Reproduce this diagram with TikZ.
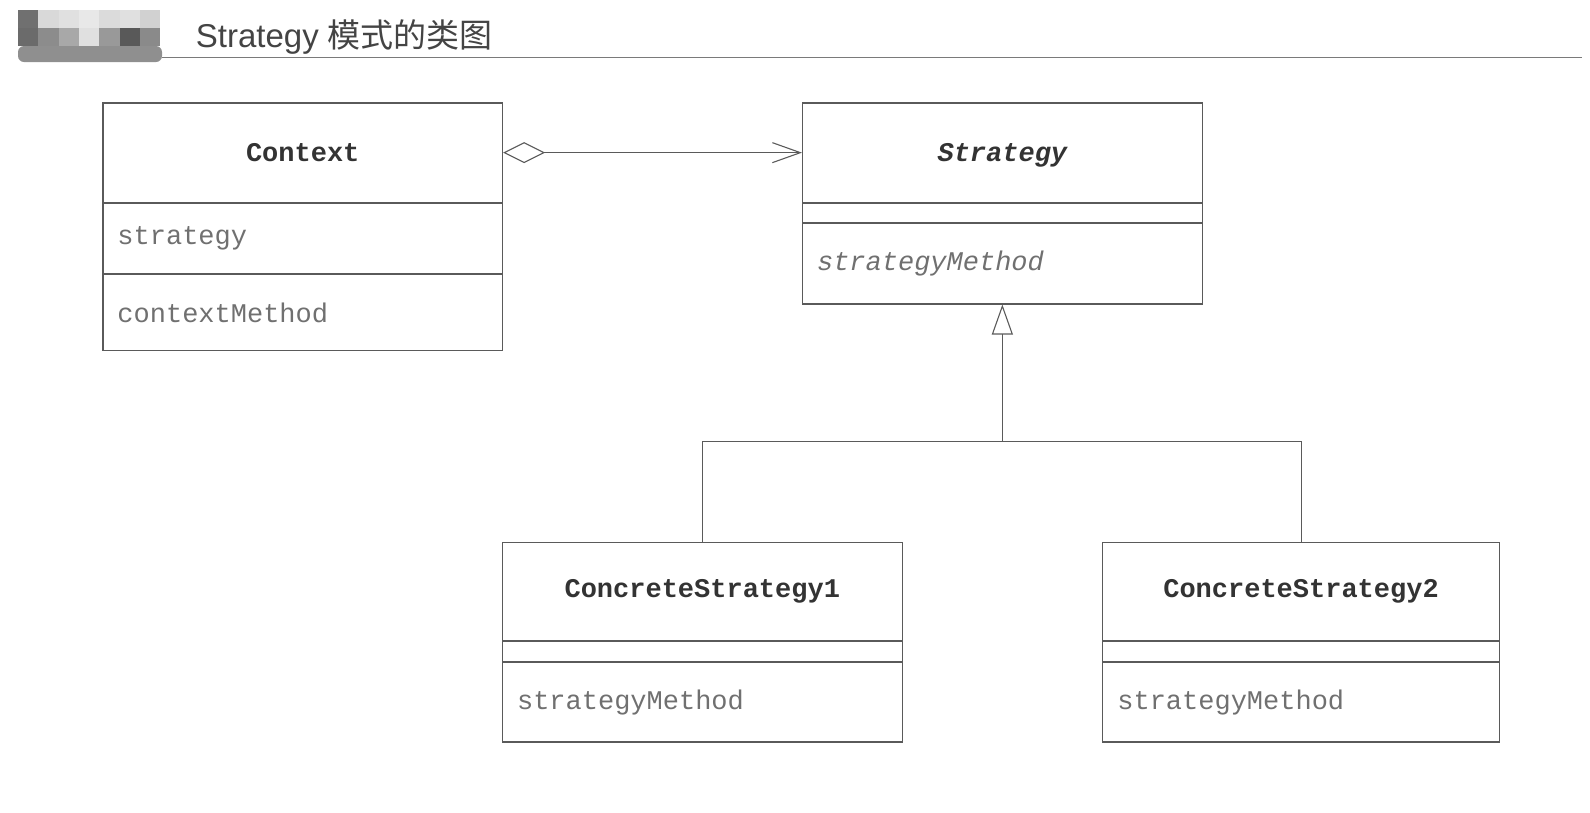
\documentclass[tikz,border=0pt]{standalone}
\usepackage{fontspec}
\setmainfont{Liberation Sans}
\setmonofont{Liberation Mono}
\newfontfamily\cjkfont{Noto Sans CJK SC}
\usetikzlibrary{arrows.meta}
\definecolor{linec}{HTML}{5A5A5A}
\definecolor{namec}{HTML}{333333}
\definecolor{fieldc}{HTML}{707070}
\definecolor{titlec}{HTML}{444444}
\tikzset{
  comp/.style={draw=linec, line width=1.1pt, anchor=north west, inner sep=0pt, minimum width=#1},
  namebox/.style={comp=#1, font=\fontsize{27}{30}\selectfont\ttfamily\bfseries, text=namec},
  fieldbox/.style={comp=#1, inner xsep=14.5pt, text width=#1-29pt, align=left, font=\fontsize{27}{30}\selectfont\ttfamily, text=fieldc},
  conn/.style={draw=linec, line width=1.1pt},
}
\begin{document}
\begin{tikzpicture}[x=1pt,y=-1pt]
\useasboundingbox (0,0) rectangle (1590,812);
% header logo (pixelated)
\foreach \c [count=\i from 0] in {56,15,12,9,14,12,18}
  {\fill[black!\c] (18+\i*20.3,10) rectangle (18+\i*20.3+20.3,28);}
\foreach \c [count=\i from 0] in {58,45,34,12,40,65,46}
  {\fill[black!\c] (18+\i*20.3,28) rectangle (18+\i*20.3+20.3,46);}
\fill[black!44, rounded corners=6pt] (18,46) rectangle (162,62);
\draw[black!52, line width=1pt] (162,57.8) -- (1582,57.8);
\node[anchor=west, inner sep=0pt, text=titlec, font=\fontsize{33}{36}\selectfont] (title) at (195.7,36.5) {Strategy {\cjkfont 模式的类图}};
% Context
\node[namebox=399.6pt, minimum height=99.4pt] (ctxN) at (102.4,102.4) {Context};
\node[fieldbox=399.6pt, minimum height=70pt] (ctxF) at (ctxN.south west) {strategy};
\node[fieldbox=399.6pt, minimum height=76pt] (ctxM) at (ctxF.south west) {contextMethod};
% Strategy
\node[namebox=399.6pt, minimum height=99.4pt, text depth=0pt, font=\fontsize{27}{30}\selectfont\ttfamily\bfseries\itshape] (strN) at (802,102.4) {Strategy};
\node[comp=399.6pt, minimum height=19.3pt] (strF) at (strN.south west) {};
\node[fieldbox=399.6pt, minimum height=80.1pt, font=\fontsize{27}{30}\selectfont\ttfamily\itshape] (strM) at (strF.south west) {strategyMethod};
% ConcreteStrategy1
\node[namebox=399.5pt, minimum height=98.4pt] (csaN) at (502,541.5) {ConcreteStrategy1};
\node[comp=399.5pt, minimum height=20.2pt] (csaF) at (csaN.south west) {};
\node[fieldbox=399.5pt, minimum height=79.1pt] (csaM) at (csaF.south west) {strategyMethod};
% ConcreteStrategy2
\node[namebox=396.4pt, minimum height=98.4pt] (csbN) at (1102.3,541.5) {ConcreteStrategy2};
\node[comp=396.4pt, minimum height=20.2pt] (csbF) at (csbN.south west) {};
\node[fieldbox=396.4pt, minimum height=79.1pt] (csbM) at (csbF.south west) {strategyMethod};
% aggregation
\draw[conn, {Diamond[open,length=42pt,width=21pt,line width=1.1pt]}-{Straight Barb[length=28pt,width=20pt,line width=1.1pt]}] (ctxN.east) -- (strN.west);
% inheritance
\coordinate (bar) at (strM.south |- 0,441.1);
\draw[conn] (csaN.north) |- (bar) -| (csbN.north);
\draw[conn, -{Triangle[open,length=30pt,width=21pt,line width=1.1pt]}] (bar) -- (strM.south);
\end{tikzpicture}
\end{document}
